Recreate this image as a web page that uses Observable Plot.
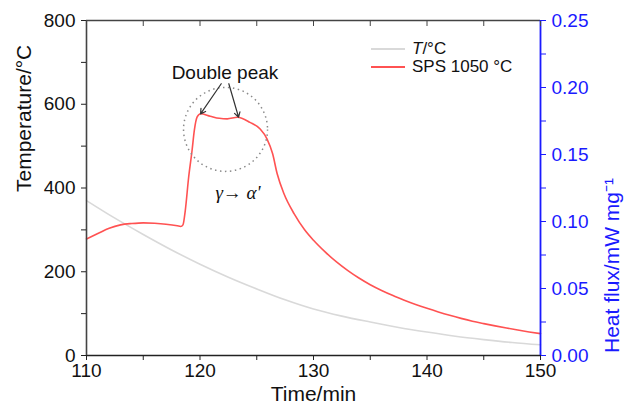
<!DOCTYPE html>
<html><head><meta charset="utf-8">
<script src="https://cdn.jsdelivr.net/npm/d3@7"></script>
<script src="https://cdn.jsdelivr.net/npm/@observablehq/plot@0.6"></script>
<style>
body{margin:0;background:#fff;}
#wrap{position:relative;width:625px;height:409px;font-family:"Liberation Sans",Arial,sans-serif;}
#legend{position:absolute;left:371px;top:40px;font-size:17px;color:#111;line-height:18px;}
#legend div{display:flex;align-items:center;height:18px;}
#legend svg{margin-right:7px;}
</style></head><body><div id="wrap"></div>
<script>
// Heat flux (mW/mg) vs time (min) — SPS 1050 °C
const fluxTime = [110,111,112,113,114,115,116,117,118,118.3,118.5,118.7,119.0,119.3,119.5,119.75,120.05,120.9,121.7,122.4,123.3,124.4,125.3,125.9,126.4,126.8,127.4,128.3,129.2,130,131,132,133,134,135,136,137,138,139,140,141,142,143,144,145,146,147,148,149,150];
const fluxValue = [0.087,0.091,0.095,0.0975,0.0985,0.099,0.0987,0.098,0.0968,0.0963,0.0975,0.108,0.133,0.153,0.168,0.178,0.1804,0.1786,0.177,0.1766,0.1778,0.174,0.169,0.1617,0.1505,0.1356,0.1207,0.1057,0.094,0.086,0.0775,0.0700,0.0635,0.0578,0.0528,0.0485,0.0447,0.0413,0.0381,0.0352,0.0325,0.0300,0.0277,0.0256,0.0238,0.0221,0.0205,0.0190,0.0176,0.0163];
// Temperature (°C) vs time (min)
const tempTime = [110,112.5,115,117.5,120,122.5,125,127.5,130,132.5,135,137.5,140,142.5,145,147.5,150];
const tempValue = [370,328,289,252,218,187,159,133,111,94,80,67,56,46,38,31,25.5];
// Axis ticks
const xTicks = [110,120,130,140,150];
const xMinorTicks = [115,125,135,145];
const tempTicks = [0,200,400,600,800];
const tempMinorTicks = [100,300,500,700];
const fluxTicks = [0,0.05,0.10,0.15,0.20,0.25];
const fluxMinorTicks = [0.025,0.075,0.125,0.175,0.225];
// Annotations
const peakLabel = ["Double peak"];
const peakLabelTime = [122.2];
const peakLabelTemp = [675];
const arrowFromTime = [121.87,122.54];
const arrowFromTemp = [649,649];
const arrowToTime = [120.05,123.4];
const arrowToTemp = [577,569];
const circleTime = [122.25];
const circleTemp = [540];
const transitionLabel = ["γ→ α'"];
const transitionTime = [123.35];
const transitionTemp = [389];

const F = 800/0.25; // heat flux -> temperature axis
const BLUE = "#1a1aff";
const fluxData = fluxTime.map((t,i)=>({t, v: fluxValue[i]*F}));
const tempData = tempTime.map((t,i)=>({t, v: tempValue[i]}));
const arrows = arrowFromTime.map((t,i)=>({x1:t,y1:arrowFromTemp[i],x2:arrowToTime[i],y2:arrowToTemp[i]}));
const blank = () => "";

const plot = Plot.plot({
  width: 625, height: 409,
  marginLeft: 86, marginRight: 85, marginTop: 20, marginBottom: 54,
  style: {fontFamily: '"Liberation Sans", Arial, sans-serif', fontSize: "19px", color: "#111", background: "#fff"},
  x: {domain: [110,150]},
  y: {domain: [0,800]},
  marks: [
    Plot.line(tempData, {x:"t", y:"v", stroke:"#d9d9d9", strokeWidth:1.6, curve:"monotone-x"}),
    Plot.line(fluxData, {x:"t", y:"v", stroke:"#ff5252", strokeWidth:1.6, curve:"monotone-x"}),
    Plot.dot(circleTime.map((t,i)=>({t, v: circleTemp[i]})), {x:"t", y:"v", r:42, stroke:"#8a8a8a", strokeWidth:1.5, strokeDasharray:"1.5,3.5", fill:"none"}),
    Plot.arrow(arrows, {x1:"x1", y1:"y1", x2:"x2", y2:"y2", stroke:"#333", strokeWidth:1.2, headLength:7, bend:false}),
    Plot.text(peakLabel.map((s,i)=>({s, t: peakLabelTime[i], v: peakLabelTemp[i]})), {x:"t", y:"v", text:"s", fontSize:19, fill:"#111"}),
    Plot.text(transitionLabel.map((s,i)=>({s, t: transitionTime[i], v: transitionTemp[i]})), {x:"t", y:"v", text:"s", fontSize:19, fontFamily:'"Liberation Serif", "DejaVu Serif", serif', fontStyle:"italic", fill:"#111"}),
    // frame
    Plot.ruleY([0], {stroke:"#222", strokeWidth:1.6}),
    Plot.ruleY([800], {stroke:"#444", strokeWidth:1.4}),
    Plot.ruleX([110], {stroke:"#444", strokeWidth:1.6}),
    Plot.ruleX([150], {stroke:BLUE, strokeWidth:1.8}),
    // bottom axis
    Plot.axisX({ticks: xTicks, tickSize: 5, tickPadding: 3, label: null, fontSize: 19, stroke:"#222"}),
    Plot.axisX({ticks: xMinorTicks, tickSize: 5, tickFormat: blank, label: null, stroke:"#222"}),
    // top inward ticks
    Plot.axisX({anchor:"top", ticks: xTicks.concat(xMinorTicks), tickSize: -5, tickFormat: blank, label: null, stroke:"#444"}),
    // left axis
    Plot.axisY({ticks: tempTicks, tickSize: 5, tickPadding: 6, label: null, fontSize: 19, stroke:"#222"}),
    Plot.axisY({ticks: tempMinorTicks, tickSize: 5, tickFormat: blank, label: null, stroke:"#222"}),
    // right axis (heat flux)
    Plot.axisY({anchor:"right", ticks: fluxTicks.map(v=>v*F), tickFormat: d => (d/F).toFixed(2), tickSize: 5, tickPadding: 6, label: null, fontSize: 19, color: BLUE}),
    Plot.axisY({anchor:"right", ticks: fluxMinorTicks.map(v=>v*F), tickFormat: blank, tickSize: 5, label: null, color: BLUE}),
    // axis titles
    Plot.text(["Temperature/°C"], {frameAnchor:"left", text: d=>d, rotate:-90, dx:-62, dy:4, fontSize:21, fill:"#111"}),
    Plot.text(["Time/min"], {frameAnchor:"bottom", text: d=>d, dy:45, fontSize:21, fill:"#111"}),
    Plot.text(["Heat flux/mW mg⁻¹"], {frameAnchor:"right", text: d=>d, rotate:-90, dx:72, dy:-10, fontSize:21, fill:BLUE})
  ]
});
const wrap = document.getElementById("wrap");
wrap.appendChild(plot);

// legend
const series = [
  {label: '<i>T</i>/°C', color: "#d9d9d9"},
  {label: 'SPS 1050 °C', color: "#ff5252"}
];
const leg = document.createElement("div");
leg.id = "legend";
leg.innerHTML = series.map(s => `<div><svg width="34" height="4"><line x1="0" x2="34" y1="2" y2="2" stroke="${s.color}" stroke-width="1.8"/></svg><span>${s.label}</span></div>`).join("");
wrap.appendChild(leg);
</script>
</body></html>
